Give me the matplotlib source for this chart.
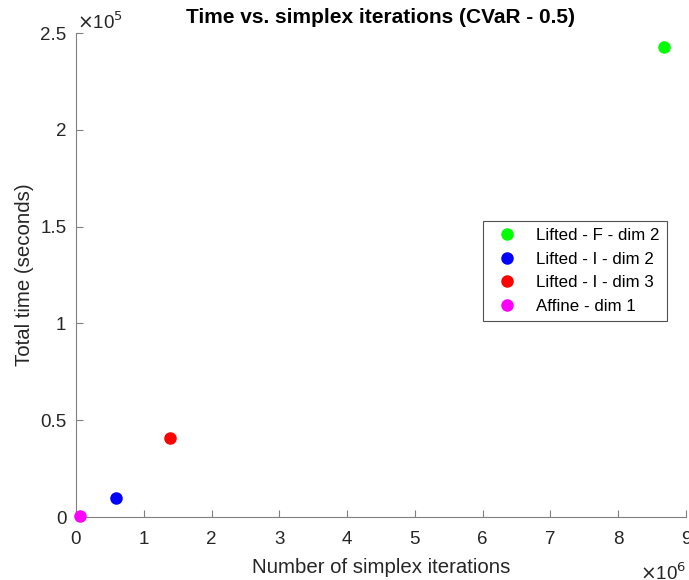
import numpy as np
import matplotlib.pyplot as plt
from matplotlib.ticker import FuncFormatter

plt.rcParams['font.family'] = ['Liberation Sans', 'DejaVu Sans']

# simplex iterations and total time for each run
labels = ['Lifted - F - dim 2', 'Lifted - I - dim 2', 'Lifted - I - dim 3', 'Affine - dim 1']
iterations = [8.68e6, 0.59e6, 1.39e6, 0.06e6]
total_time = [2.43e5, 0.098e5, 0.408e5, 0.003e5]
colors = ['#00ff00', '#0000ff', '#ff0000', '#ff00ff']

x_ticks = np.arange(0, 10, 1) * 1e6
y_ticks = np.arange(0, 3.0, 0.5) * 1e5

fig = plt.figure(figsize=(6.89, 5.80), dpi=100)
ax = fig.add_axes([0.1103, 0.1086, 0.8853, 0.8345])

for xv, yv, c, lab in zip(iterations, total_time, colors, labels):
    ax.plot(xv, yv, 'o', color=c, markersize=8, label=lab, clip_on=False, zorder=3)

ax.set_xlim(0, 9e6)
ax.set_ylim(0, 2.5e5)
ax.set_xticks(x_ticks)
ax.set_yticks(y_ticks)
ax.xaxis.set_major_formatter(FuncFormatter(lambda v, p: '%g' % (v / 1e6)))
ax.yaxis.set_major_formatter(FuncFormatter(lambda v, p: '%g' % (v / 1e5)))

for s in ['top', 'right']:
    ax.spines[s].set_visible(False)
for s in ['left', 'bottom']:
    ax.spines[s].set_color('#808080')
ax.tick_params(direction='in', length=5, color='#808080', labelsize=13.5, labelcolor='#262626')
ax.tick_params(axis='y', pad=7)
ax.tick_params(axis='x', pad=10)

ax.set_xlabel('Number of simplex iterations', fontsize=14.7, color='#262626', labelpad=7)
ax.set_ylabel('Total time (seconds)', fontsize=14.7, color='#262626', labelpad=4)
ax.set_title('Time vs. simplex iterations (CVaR - 0.5)', fontsize=15, fontweight='bold', pad=7)

ax.text(0.002, 1.0, r'$\times$10$^{5}$', transform=ax.transAxes, fontsize=13.5,
        color='#262626', ha='left', va='bottom')
ax.text(1.0, -0.095, r'$\times$10$^{6}$', transform=ax.transAxes, fontsize=13.5,
        color='#262626', ha='right', va='top')

leg = ax.legend(loc='upper left', bbox_to_anchor=(0.667, 0.612), fontsize=12.2,
                frameon=True, fancybox=False, edgecolor='#262626', handletextpad=0.7,
                borderpad=0.45, labelspacing=0.5, handlelength=2.0, borderaxespad=0)
leg.get_frame().set_linewidth(0.8)

fig.savefig('out.png', dpi=100)
